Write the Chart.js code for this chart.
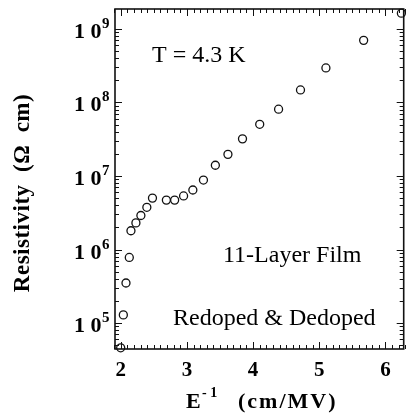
<!DOCTYPE html>
<html lang="en">
<head>
    <meta charset="UTF-8">
    <title>Resistivity vs inverse field</title>
    <script src="https://cdn.jsdelivr.net/npm/chart.js"></script>
    <style>
        body {
            margin: 0;
            padding: 0;
            background-color: white;
        }
        .chart-container {
            width: 409px;
            height: 417px;
        }
    </style>
</head>
<body>
    <div class="chart-container">
        <canvas id="rhoChart"></canvas>
    </div>

    <script>
        // Data
        const invField = [2.00, 2.04, 2.08, 2.13, 2.155, 2.23, 2.305, 2.395, 2.48, 2.69, 2.815, 2.95,
                          3.09, 3.25, 3.43, 3.62, 3.84, 4.10, 4.385, 4.716, 5.10, 5.67, 6.24];
        const resistivity = [4.6e4, 1.29e5, 3.5e5, 7.8e5, 1.8e6, 2.3e6, 2.9e6, 3.75e6, 5.0e6, 4.7e6, 4.7e6, 5.35e6,
                             6.45e6, 8.8e6, 1.4e7, 1.97e7, 3.2e7, 5.05e7, 8.1e7, 1.48e8, 2.95e8, 7.0e8, 1.64e9];
        const xTicks = [2, 3, 4, 5, 6];
        const yExponents = [5, 6, 7, 8, 9];
        const notes = ['T = 4.3 K', '11-Layer Film', 'Redoped & Dedoped'];

        const serif = "'Liberation Serif', 'Times New Roman', serif";

        // frame, inward ticks and all the text
        const axesPlugin = {
            id: 'axesPlugin',
            beforeDatasetsDraw(chart) {
                const ctx = chart.ctx;
                const a = chart.chartArea;
                const xs = chart.scales.x;
                const ys = chart.scales.y;
                ctx.save();
                ctx.strokeStyle = '#111';
                ctx.lineWidth = 1;
                ctx.beginPath();
                // x ticks every 0.1, long at integers
                for (let i = 19; i <= 63; i++) {
                    const v = i / 10;
                    const px = Math.round(xs.getPixelForValue(v)) + 0.5;
                    const len = (i % 10 === 0) ? 7 : 4;
                    ctx.moveTo(px, a.bottom); ctx.lineTo(px, a.bottom - len);
                    ctx.moveTo(px, a.top); ctx.lineTo(px, a.top + len);
                }
                // y ticks per decade
                for (let e = 4; e <= 9; e++) {
                    for (let m = 1; m <= 9; m++) {
                        const v = m * Math.pow(10, e);
                        if (v < ys.min || v > ys.max) continue;
                        const py = Math.round(ys.getPixelForValue(v)) + 0.5;
                        const len = (m === 1) ? 7 : 4;
                        ctx.moveTo(a.left, py); ctx.lineTo(a.left + len, py);
                        ctx.moveTo(a.right, py); ctx.lineTo(a.right - len, py);
                    }
                }
                ctx.stroke();
                ctx.lineWidth = 1.6;
                ctx.strokeRect(a.left, a.top, a.right - a.left, a.bottom - a.top);
                ctx.restore();
            },
            afterDraw(chart) {
                const ctx = chart.ctx;
                const xs = chart.scales.x;
                const ys = chart.scales.y;
                ctx.save();
                ctx.fillStyle = '#000';

                // x tick labels
                ctx.font = 'bold 21px ' + serif;
                ctx.textAlign = 'center';
                ctx.textBaseline = 'middle';
                xTicks.forEach(v => ctx.fillText(String(v), xs.getPixelForValue(v), 371));

                // y tick labels 10^n
                ctx.textAlign = 'left';
                ctx.textBaseline = 'alphabetic';
                yExponents.forEach(e => {
                    const py = ys.getPixelForValue(Math.pow(10, e));
                    ctx.font = 'bold 22px ' + serif;
                    ctx.fillText('1 0', 74, py + 9);
                    ctx.font = 'bold 15px ' + serif;
                    ctx.fillText(String(e), 102, py - 1);
                });

                // x axis title
                ctx.font = 'bold 22px ' + serif;
                ctx.fillText('E', 186, 408);
                ctx.font = 'bold 14px ' + serif;
                ctx.fillText('- 1', 202, 397);
                ctx.font = 'bold 22px ' + serif;
                ctx.letterSpacing = '2px';
                ctx.fillText('(cm/MV)', 238, 408);
                ctx.letterSpacing = '0px';

                // y axis title
                ctx.save();
                ctx.translate(29, 193);
                ctx.rotate(-Math.PI / 2);
                ctx.textAlign = 'center';
                ctx.font = 'bold 23px ' + serif;
                ctx.letterSpacing = '0.5px';
                ctx.fillText('Resistivity  (\u03A9  cm)', 0, 0);
                ctx.restore();

                // annotations
                ctx.font = '24px ' + serif;
                ctx.fillText(notes[0], 152, 62);
                ctx.fillText(notes[1], 223, 262);
                ctx.fillText(notes[2], 173, 325);
                ctx.restore();
            }
        };

        const rhoChart = new Chart(document.getElementById('rhoChart'), {
            type: 'scatter',
            data: {
                datasets: [{
                    label: 'Resistivity',
                    data: invField.map((x, i) => ({ x: x, y: resistivity[i] })),
                    pointStyle: 'circle',
                    pointRadius: 4,
                    pointBorderWidth: 1.3,
                    pointBorderColor: '#111',
                    pointBackgroundColor: 'rgba(255,255,255,0)',
                    clip: false
                }]
            },
            options: {
                responsive: true,
                maintainAspectRatio: false,
                animation: false,
                events: [],
                layout: {
                    padding: { left: 115, right: 4, top: 9, bottom: 68 }
                },
                plugins: {
                    legend: { display: false },
                    tooltip: { enabled: false }
                },
                scales: {
                    x: { type: 'linear', min: 1.914, max: 6.275, display: false },
                    y: { type: 'logarithmic', min: 4.43e4, max: 1.87e9, display: false }
                }
            },
            plugins: [axesPlugin]
        });
    </script>
</body>
</html>
